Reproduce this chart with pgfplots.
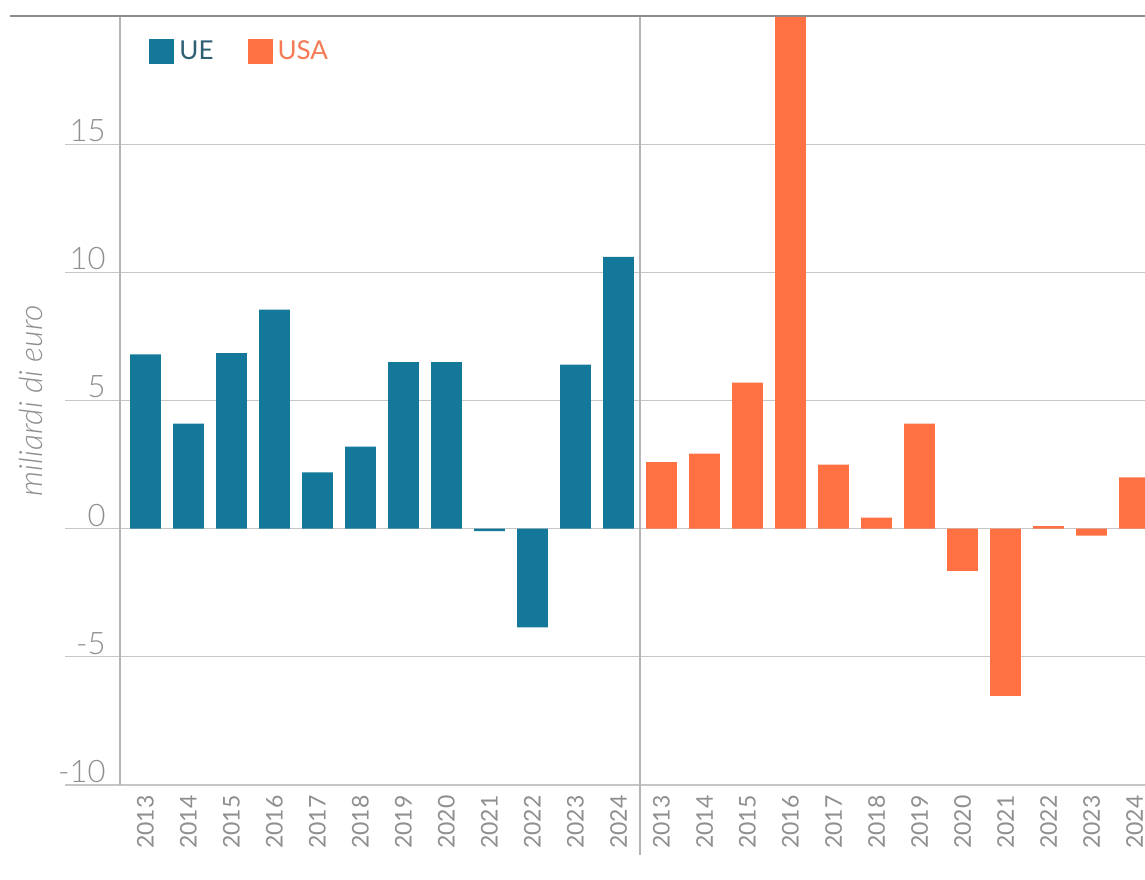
\documentclass[border=0pt]{standalone}
\usepackage{fontspec}
\setmainfont{Lato}
\newfontfamily\lightfont{Lato Light}
\usepackage{pgfplots}
\pgfplotsset{compat=1.18}

\definecolor{ue}{HTML}{13789A}
\definecolor{usa}{HTML}{FF7043}
\definecolor{uetext}{HTML}{2E5F74}
\definecolor{usatext}{HTML}{F47A55}
\definecolor{gridc}{HTML}{C6C6C6}
\definecolor{axc}{HTML}{B4B4B4}
\definecolor{topc}{HTML}{8C8C8C}
\definecolor{labc}{HTML}{8F8F8F}

\begin{document}
\begin{tikzpicture}
\begin{axis}[
  scale only axis,
  width=512.5pt, height=384.5pt,
  xmin=-0.593, xmax=23.244,
  ymin=-10, ymax=20,
  clip=false,
  ybar, bar width=0.72, bar shift=0pt,
  axis line style={draw=none},
  major tick length=0pt,
  ytick={-10,-5,0,5,10,15},
  ymajorgrids,
  grid style={gridc, line width=0.6pt},
  xtick={0,...,23},
  xticklabels={2013,2014,2015,2016,2017,2018,2019,2020,2021,2022,2023,2024,
               2013,2014,2015,2016,2017,2018,2019,2020,2021,2022,2023,2024},
  xticklabel style={yshift=-5pt, rotate=90, anchor=east, inner sep=0pt,
                    font=\fontsize{11.5}{12}\selectfont, text=labc},
  yticklabel style={anchor=south east, inner sep=0pt, xshift=-7pt, yshift=1pt,
                    font=\lightfont\fontsize{15.5}{16}\selectfont, text=labc},
  /pgf/number format/assume math mode=true,
  ylabel={miliardi di euro},
  every axis y label/.style={at={(rel axis cs:0,0.5)}, xshift=-44.5pt,
                             rotate=90, anchor=center},
  ylabel style={font=\lightfont\itshape\fontsize{16}{17}\selectfont, text=labc},
  legend style={at={(rel axis cs:0,1)}, anchor=north west,
                xshift=14.5pt, yshift=-10pt, draw=none, fill=none,
                inner sep=0pt, font=\fontsize{13}{15}\selectfont,
                /tikz/every even column/.append style={column sep=15pt}},
  legend columns=2,
  legend image code/.code={\fill[#1,draw=none] (0pt,-6.25pt) rectangle (12.5pt,6.25pt);},
]
% EU balance
\addplot[fill=ue, draw=none] coordinates {
  (0,6.8) (1,4.1) (2,6.85) (3,8.55) (4,2.2) (5,3.2)
  (6,6.5) (7,6.5) (8,-0.1) (9,-3.85) (10,6.4) (11,10.6)};
\addlegendentry{\hspace{0.5pt}\textcolor{uetext}{UE}}
% US balance
\addplot[fill=usa, draw=none] coordinates {
  (12,2.6) (13,2.93) (14,5.7) (15,20) (16,2.5) (17,0.43)
  (18,4.1) (19,-1.65) (20,-6.52) (21,0.1) (22,-0.27) (23,2.0)};
\addlegendentry{\hspace{0.5pt}\textcolor{usatext}{USA}}

% grid extensions under the tick labels
\pgfplotsinvokeforeach{-10,-5,0,5,10,15}{
  \draw[gridc, line width=0.6pt] ([xshift=-27.5pt]axis cs:-0.593,#1) -- (axis cs:-0.593,#1);
}
% frame lines
\draw[axc, line width=0.8pt] (axis cs:-0.593,-10) -- (axis cs:-0.593,20);
\draw[axc, line width=0.6pt] (axis cs:11.5,20) -- ([yshift=-35pt]axis cs:11.5,-10);
\draw[topc, line width=0.9pt] ([xshift=-55pt]axis cs:-0.593,20) -- (axis cs:23.244,20);

\coordinate (bbsw) at ([xshift=-60pt,yshift=-47pt]rel axis cs:0,0);
\coordinate (bbne) at ([yshift=8pt]rel axis cs:1,1);
\end{axis}
\pgfresetboundingbox
\path (bbsw) rectangle (bbne);
\end{tikzpicture}
\end{document}
